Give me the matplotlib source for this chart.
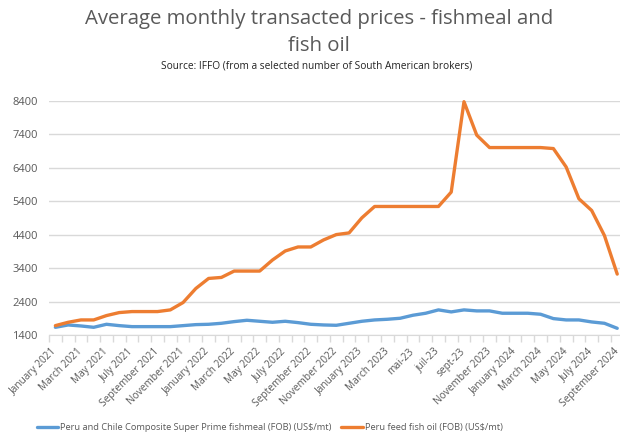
import matplotlib
matplotlib.use("Agg")
import matplotlib.pyplot as plt
from matplotlib.ticker import FixedLocator
from matplotlib.transforms import ScaledTranslation

# month labels shown on the axis (every second month)
months = [
    "January 2021", "February 2021", "March 2021", "April 2021", "May 2021", "June 2021",
    "July 2021", "August 2021", "September 2021", "October 2021", "November 2021", "December 2021",
    "January 2022", "February 2022", "March 2022", "April 2022", "May 2022", "June 2022",
    "July 2022", "August 2022", "September 2022", "October 2022", "November 2022", "December 2022",
    "January 2023", "February 2023", "March 2023", "avr-23", "mai-23", "juin-23",
    "juil-23", "août-23", "sept-23", "October 2023", "November 2023", "December 2023",
    "January 2024", "February 2024", "March 2024", "April 2024", "May 2024", "June 2024",
    "July 2024", "August 2024", "September 2024",
]

fishmeal = [
    1630, 1700, 1670, 1630, 1720, 1680, 1650, 1650, 1650, 1650,
    1680, 1710, 1720, 1750, 1800, 1840, 1810, 1780, 1810, 1770,
    1720, 1700, 1690, 1750, 1810, 1850, 1870, 1900, 1990, 2050,
    2150, 2090, 2150, 2120, 2120, 2050, 2050, 2050, 2020, 1890,
    1850, 1850, 1790, 1750, 1600,
]

fish_oil = [
    1680, 1780, 1850, 1850, 1980, 2070, 2100, 2100, 2100, 2150,
    2370, 2790, 3090, 3120, 3310, 3310, 3310, 3640, 3910, 4030,
    4030, 4240, 4400, 4450, 4900, 5240, 5240, 5240, 5240, 5240,
    5240, 5670, 8370, 7370, 7000, 7000, 7000, 7000, 7000, 6970,
    6420, 5470, 5120, 4370, 3220,
]

yticks = [1400, 2400, 3400, 4400, 5400, 6400, 7400, 8400]

label_color = "#595959"
font = "Open Sans"

fig = plt.figure(figsize=(6.2, 4.33), dpi=100)
ax = fig.add_axes([49 / 620, 98 / 433, 574.6 / 620, 234.3 / 433])

x = list(range(len(months)))
ax.plot(x, fishmeal, color="#5b9bd5", lw=2.4, solid_capstyle="round",
        label="Peru and Chile Composite Super Prime fishmeal (FOB) (US$/mt)", clip_on=False)
ax.plot(x, fish_oil, color="#ed7d31", lw=2.4, solid_capstyle="round",
        label="Peru feed fish oil (FOB) (US$/mt)", clip_on=False)

ax.set_xlim(-0.5, len(months) - 0.5)
ax.set_ylim(1400, 8400)
ax.set_yticks(yticks)
ax.set_yticklabels([str(v) for v in yticks], fontsize=8, color=label_color, family=font)
ax.yaxis.grid(True, color="#d9d9d9", lw=1)
ax.set_axisbelow(True)
ax.tick_params(axis="y", length=0, pad=8)

ax.set_xticks(x[::2])
ax.set_xticklabels(months[::2], rotation=45, ha="right", rotation_mode="anchor",
                   fontsize=7.3, color=label_color, family=font)
ax.xaxis.set_minor_locator(FixedLocator([i - 0.5 for i in range(len(months) + 1)]))
ax.tick_params(axis="x", which="major", length=0, pad=8)
ax.tick_params(axis="x", which="minor", length=5, color="#d9d9d9", width=1)

# nudge the rotated labels a few pixels left so the last one stays inside
shift = ScaledTranslation(-4 / 100, 0, fig.dpi_scale_trans)
for lbl in ax.get_xticklabels():
    lbl.set_transform(lbl.get_transform() + shift)

for side in ["top", "right", "left"]:
    ax.spines[side].set_visible(False)
ax.spines["bottom"].set_color("#d9d9d9")

fig.text(0.515, 0.98, "Average monthly transacted prices - fishmeal and\nfish oil",
         ha="center", va="top", fontsize=14.7, color=label_color, family=font, linespacing=1.5)
fig.text(0.511, 0.847, "Source: IFFO (from a selected number of South American brokers)",
         ha="center", va="center", fontsize=7.3, color="#222222", family=font)

leg = fig.legend(loc="center", bbox_to_anchor=(0.435, 0.012), ncol=2, frameon=False,
                 prop={"family": font, "size": 6.7}, handlelength=2.3, columnspacing=1.0,
                 handletextpad=0.25)
for t in leg.get_texts():
    t.set_color(label_color)

fig.savefig("out.png", dpi=100)
